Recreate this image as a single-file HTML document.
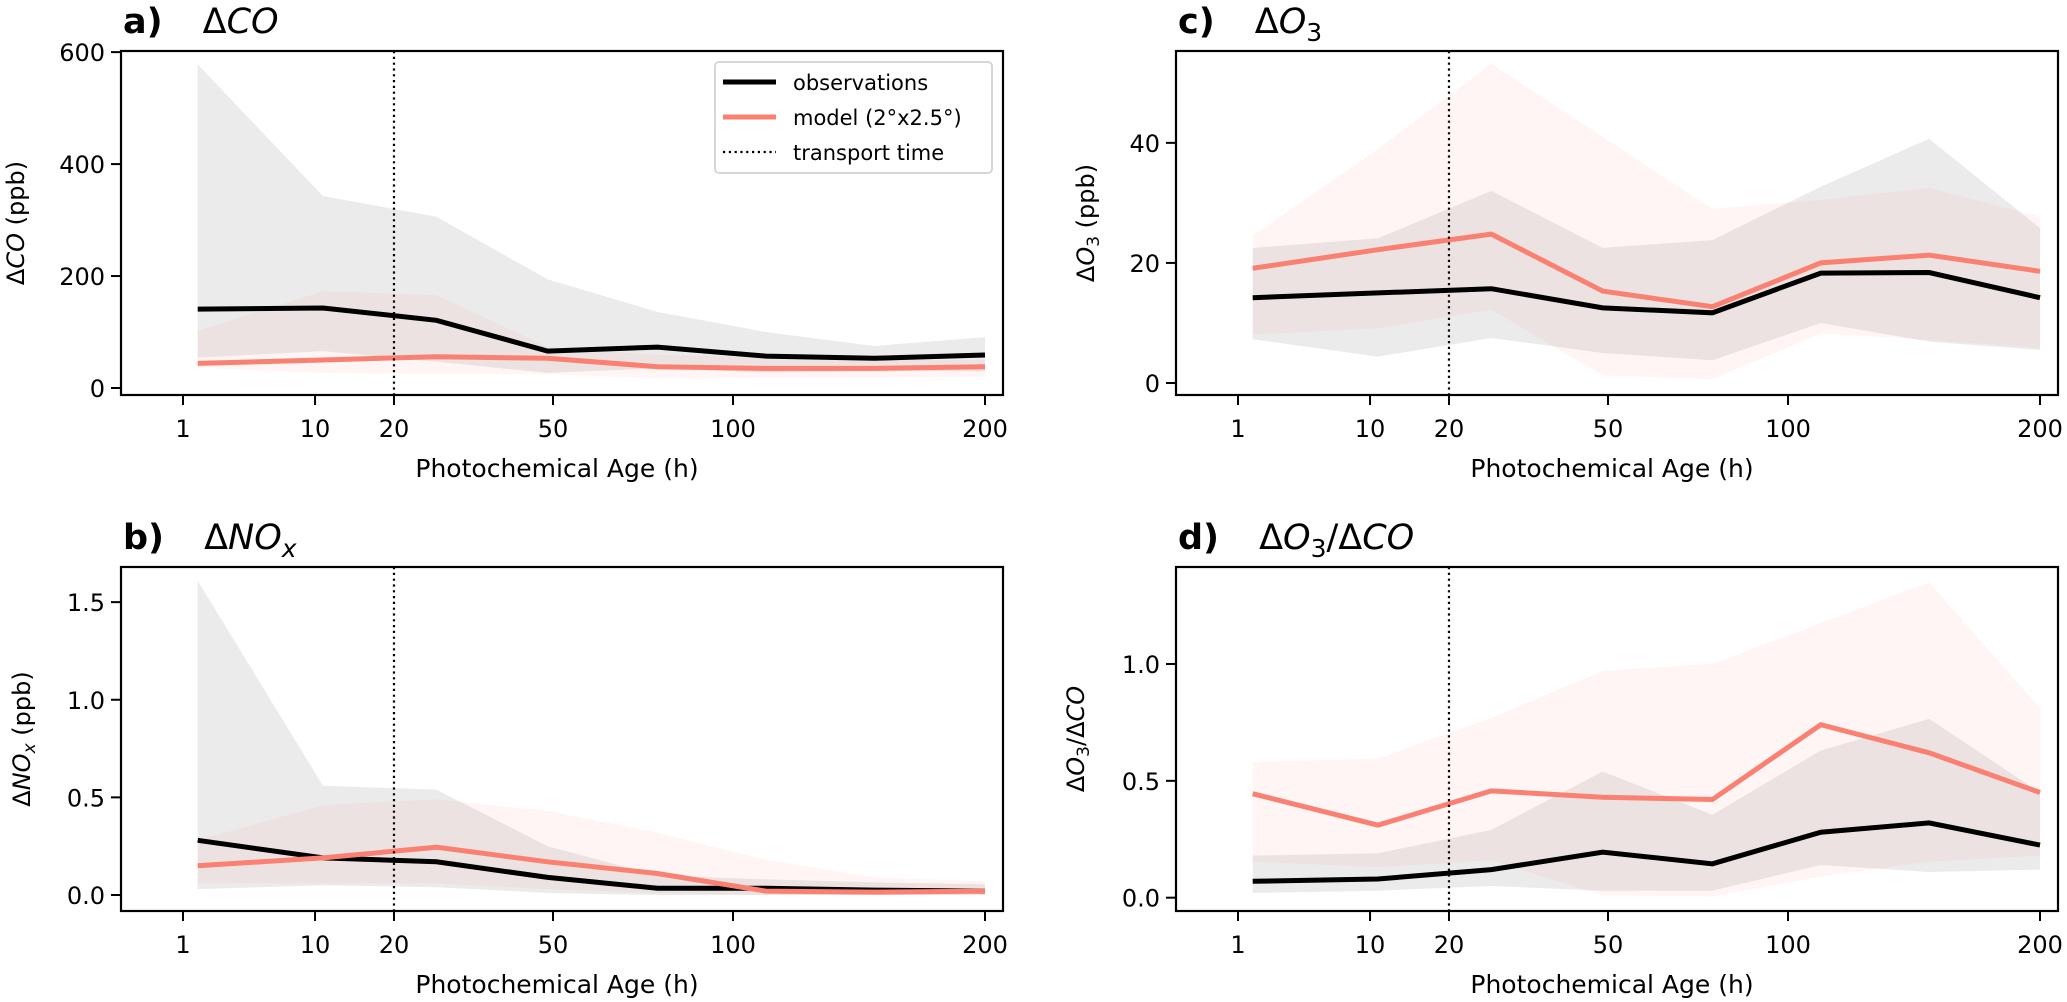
<!DOCTYPE html>
<html><head><meta charset="utf-8"><style>
html,body{margin:0;padding:0;background:#fff;}
svg{display:block;font-family:"DejaVu Sans","Liberation Sans",sans-serif;}
</style></head><body>
<svg id="fig" width="2067" height="1002" viewBox="0 0 2067 1002" xmlns="http://www.w3.org/2000/svg"></svg>
<script>
// shared x-axis data
const ages = [2, 11, 28, 49, 79, 113, 156, 200];
const xTickVals = [1, 10, 20, 50, 100, 200];
const xTickLabels = ['1', '10', '20', '50', '100', '200'];
const transportAge = 20;
// panel a: ΔCO
const coObs = [141, 143, 121, 66, 73, 57, 53, 59];
const coObsHi = [578, 343, 306, 194, 136, 100, 75, 91];
const coObsLo = [54, 66, 47, 27, 35, 28, 30, 30];
const coMod = [44, 50, 56, 53, 38, 35, 35, 38];
const coModHi = [102, 173, 166, 73, 59, 55, 50, 50];
const coModLo = [36, 27, 25, 25, 17, 18, 18, 20];
const coTicks = [0, 200, 400, 600];
// panel b: ΔNOx
const noxObs = [0.28, 0.19, 0.17, 0.09, 0.035, 0.035, 0.025, 0.02];
const noxObsHi = [1.61, 0.56, 0.54, 0.25, 0.10, 0.08, 0.065, 0.055];
const noxObsLo = [0.03, 0.05, 0.04, 0.01, 0.0, 0.0, 0.0, 0.0];
const noxMod = [0.15, 0.19, 0.245, 0.17, 0.11, 0.02, 0.015, 0.02];
const noxModHi = [0.28, 0.46, 0.49, 0.43, 0.32, 0.18, 0.09, 0.07];
const noxModLo = [0.06, 0.06, 0.06, 0.03, 0.01, 0.0, 0.0, 0.0];
const noxTicks = [0.0, 0.5, 1.0, 1.5];
// panel c: ΔO3
const o3Obs = [14.2, 15.0, 15.7, 12.5, 11.7, 18.3, 18.4, 14.2];
const o3ObsHi = [22.5, 24.1, 32, 22.5, 23.8, 32.7, 40.7, 25.8];
const o3ObsLo = [7.3, 4.4, 7.5, 5.0, 3.8, 10, 6.9, 5.5];
const o3Mod = [19.1, 22.2, 24.8, 15.3, 12.7, 20.0, 21.3, 18.6];
const o3ModHi = [24.5, 39, 53.2, 41, 29, 30.5, 32.5, 27.7];
const o3ModLo = [8.1, 9.1, 12.2, 1.3, 0.6, 8.3, 7.2, 5.8];
const o3Ticks = [0, 20, 40];
// panel d: ΔO3/ΔCO
const ratioObs = [0.07, 0.08, 0.12, 0.195, 0.145, 0.28, 0.32, 0.225];
const ratioObsHi = [0.18, 0.19, 0.29, 0.54, 0.355, 0.63, 0.765, 0.45];
const ratioObsLo = [0.02, 0.03, 0.05, 0.03, 0.03, 0.14, 0.11, 0.12];
const ratioMod = [0.445, 0.31, 0.457, 0.43, 0.42, 0.74, 0.62, 0.45];
const ratioModHi = [0.58, 0.595, 0.77, 0.97, 1.0, 1.175, 1.35, 0.81];
const ratioModLo = [0.155, 0.13, 0.16, 0.01, 0.005, 0.09, 0.155, 0.18];
const ratioTicks = [0.0, 0.5, 1.0];

const NS = 'http://www.w3.org/2000/svg';
const fig = document.getElementById('fig');
const tickFrac = [0.0703, 0.2200, 0.3095, 0.4898, 0.6939, 0.9796];
function mk(tag, attrs, parent) {
  const e = document.createElementNS(NS, tag);
  for (const k in attrs) e.setAttribute(k, attrs[k]);
  (parent || fig).appendChild(e);
  return e;
}
function xScaleFactory(L, W) {
  return function (age) {
    let i = 0;
    while (i < xTickVals.length - 2 && age > xTickVals[i + 1]) i++;
    const a0 = xTickVals[i], a1 = xTickVals[i + 1];
    const f = tickFrac[i] + (age - a0) / (a1 - a0) * (tickFrac[i + 1] - tickFrac[i]);
    return L + f * W;
  };
}
function panel(p) {
  const L = p.left, T = p.top, W = 882, H = 344, B = T + H;
  const g = mk('g', {});
  
  
  const xs = xScaleFactory(L, W);
  const ys = v => B - (v - p.ymin) / (p.ymax - p.ymin) * H;
  const band = (hi, lo, fill, name) => {
    let d = '';
    ages.forEach((a, i) => { d += (i ? 'L' : 'M') + xs(a).toFixed(1) + ',' + ys(hi[i]).toFixed(1); });
    for (let i = ages.length - 1; i >= 0; i--) d += 'L' + xs(ages[i]).toFixed(1) + ',' + ys(lo[i]).toFixed(1);
    const e = mk('path', { d: d + 'Z', fill: fill, stroke: 'none' }, g);
    
    
  };
  band(p.obsHi, p.obsLo, 'rgba(128,128,128,0.16)', p.id + '-obs-range');
  band(p.modHi, p.modLo, 'rgba(250,128,114,0.08)', p.id + '-model-range');
  const line = (vals, color, w, name) => {
    const pts = ages.map((a, i) => xs(a).toFixed(1) + ',' + ys(vals[i]).toFixed(1)).join(' ');
    const e = mk('polyline', { points: pts, fill: 'none', stroke: color, 'stroke-width': w, 'stroke-linejoin': 'miter' }, g);
    
    
  };
  line(p.obs, '#000', 5, p.id + '-obs-line');
  line(p.mod, '#fa8072', 5, p.id + '-model-line');
  const tx = xs(transportAge);
  const vl = mk('line', { x1: tx, x2: tx, y1: T, y2: B, stroke: '#000', 'stroke-width': 2.2, 'stroke-dasharray': '2.2,3.6' }, g);
  
  
  const fr = mk('rect', { x: L, y: T, width: W, height: H, fill: 'none', stroke: '#000', 'stroke-width': 2.2 }, g);
  
  
  xTickVals.forEach((v, i) => {
    const x = xs(v);
    mk('line', { x1: x, x2: x, y1: B, y2: B + 10, stroke: '#000', 'stroke-width': 2 }, g);
    const t = mk('text', { x: x, y: B + 42, 'font-size': 24, 'text-anchor': 'middle' }, g);
    t.textContent = xTickLabels[i];
    
    
  });
  p.ticks.forEach(v => {
    const y = ys(v);
    mk('line', { x1: L - 10, x2: L, y1: y, y2: y, stroke: '#000', 'stroke-width': 2 }, g);
    const t = mk('text', { x: L - 16, y: y + 9, 'font-size': 24, 'text-anchor': 'end' }, g);
    t.textContent = p.fmt(v);
    
    
  });
  const xl = mk('text', { x: L + W / 2 - 5, y: B + 82, 'font-size': 25, 'text-anchor': 'middle' }, g);
  xl.textContent = 'Photochemical Age (h)';
  
  
  const yl = mk('text', { transform: 'translate(' + p.ylx + ',' + (T + H / 2) + ') rotate(-90)', 'font-size': 24, 'text-anchor': 'middle' }, g);
  yl.innerHTML = p.ylabel;
  
  
  const tt = mk('text', { x: L + 2, y: T - 18, 'font-size': 35 }, g);
  tt.innerHTML = p.title;
  
  
}
const f0 = v => String(v), f1 = v => v.toFixed(1);
panel({ id: 'a', left: 121, top: 51, ymin: -12.5, ymax: 602, ticks: coTicks, fmt: f0,
  obs: coObs, obsHi: coObsHi, obsLo: coObsLo, mod: coMod, modHi: coModHi, modLo: coModLo, ylx: 24,
  ylabel: 'Δ<tspan font-style="italic">CO</tspan> (ppb)',
  title: '<tspan font-weight="bold">a)</tspan><tspan dx="40">Δ</tspan><tspan font-style="italic">CO</tspan>' });
panel({ id: 'b', left: 121, top: 567, ymin: -0.082, ymax: 1.68, ticks: noxTicks, fmt: f1,
  obs: noxObs, obsHi: noxObsHi, obsLo: noxObsLo, mod: noxMod, modHi: noxModHi, modLo: noxModLo, ylx: 30,
  ylabel: 'Δ<tspan font-style="italic">NO</tspan><tspan font-style="italic" font-size="17" dy="5">x</tspan><tspan dy="-5"> (ppb)</tspan>',
  title: '<tspan font-weight="bold">b)</tspan><tspan dx="40">Δ</tspan><tspan font-style="italic">NO</tspan><tspan font-style="italic" font-size="25" dy="8">x</tspan>' });
panel({ id: 'c', left: 1176, top: 51, ymin: -2, ymax: 55.3, ticks: o3Ticks, fmt: f0,
  obs: o3Obs, obsHi: o3ObsHi, obsLo: o3ObsLo, mod: o3Mod, modHi: o3ModHi, modLo: o3ModLo, ylx: 1094,
  ylabel: 'Δ<tspan font-style="italic">O</tspan><tspan font-size="17" dy="5">3</tspan><tspan dy="-5"> (ppb)</tspan>',
  title: '<tspan font-weight="bold">c)</tspan><tspan dx="40">Δ</tspan><tspan font-style="italic">O</tspan><tspan font-size="25" dy="8">3</tspan>' });
panel({ id: 'd', left: 1176, top: 567, ymin: -0.057, ymax: 1.415, ticks: ratioTicks, fmt: f1,
  obs: ratioObs, obsHi: ratioObsHi, obsLo: ratioObsLo, mod: ratioMod, modHi: ratioModHi, modLo: ratioModLo, ylx: 1084,
  ylabel: 'Δ<tspan font-style="italic">O</tspan><tspan font-size="17" dy="5">3</tspan><tspan dy="-5">/Δ</tspan><tspan font-style="italic">CO</tspan>',
  title: '<tspan font-weight="bold">d)</tspan><tspan dx="40">Δ</tspan><tspan font-style="italic">O</tspan><tspan font-size="25" dy="8">3</tspan><tspan dy="-8">/Δ</tspan><tspan font-style="italic">CO</tspan>' });

// legend
const lg = mk('g', {});


mk('rect', { x: 715, y: 62, width: 277, height: 111, rx: 4, fill: 'rgba(255,255,255,0.8)', stroke: '#d6d6d6', 'stroke-width': 2 }, lg);
const legendItems = [
  { label: 'observations', color: '#000', dash: null, w: 5, name: 'legend-entry-observations' },
  { label: 'model (2°x2.5°)', color: '#fa8072', dash: null, w: 5, name: 'legend-entry-model' },
  { label: 'transport time', color: '#000', dash: '2.2,3.6', w: 2.2, name: 'legend-entry-transport-time' }
];
legendItems.forEach((it, i) => {
  const y = 82 + i * 35;
  const e = mk('g', {}, lg);
  
  
  const a = { x1: 723, x2: 776, y1: y, y2: y, stroke: it.color, 'stroke-width': it.w };
  if (it.dash) a['stroke-dasharray'] = it.dash;
  mk('line', a, e);
  const t = mk('text', { x: 793, y: y + 8, 'font-size': 21 }, e);
  t.textContent = it.label;
});
</script>
</body></html>
